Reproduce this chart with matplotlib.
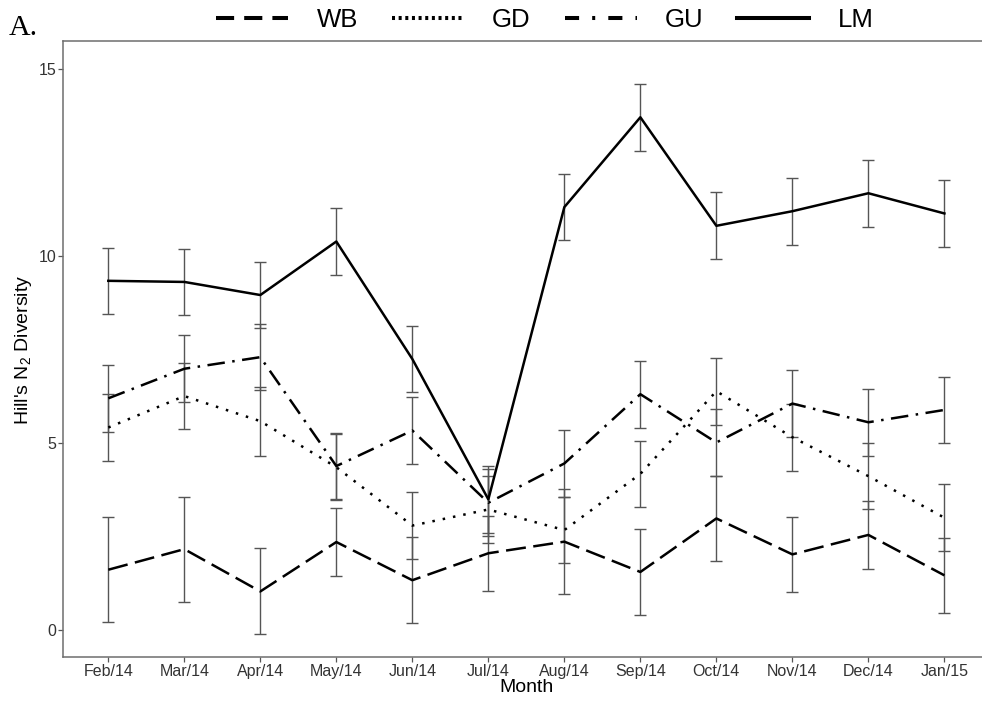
import numpy as np
import matplotlib.pyplot as plt
from matplotlib.lines import Line2D

plt.rcParams['font.family'] = ['Liberation Sans', 'DejaVu Sans']
plt.rcParams['mathtext.fontset'] = 'custom'
plt.rcParams['mathtext.rm'] = 'Liberation Sans'
plt.rcParams['mathtext.default'] = 'regular'

months = ['Feb/14', 'Mar/14', 'Apr/14', 'May/14', 'Jun/14', 'Jul/14',
          'Aug/14', 'Sep/14', 'Oct/14', 'Nov/14', 'Dec/14', 'Jan/15']

# mean Hill's N2 per site, with standard errors
wb = [1.61, 2.16, 1.03, 2.35, 1.33, 2.05, 2.36, 1.55, 2.98, 2.02, 2.54, 1.46]
wb_se = [1.40, 1.40, 1.15, 0.90, 1.15, 1.00, 1.40, 1.15, 1.14, 1.00, 0.91, 1.00]

gd = [5.41, 6.25, 5.58, 4.35, 2.79, 3.22, 2.67, 4.17, 6.38, 5.15, 4.11, 3.00]
gd_se = [0.89, 0.89, 0.92, 0.89, 0.89, 0.89, 0.89, 0.89, 0.89, 0.89, 0.89, 0.89]

gu = [6.19, 6.98, 7.29, 4.38, 5.33, 3.40, 4.45, 6.30, 5.01, 6.05, 5.55, 5.88]
gu_se = [0.89, 0.89, 0.89, 0.89, 0.89, 0.89, 0.89, 0.89, 0.89, 0.89, 0.89, 0.89]

lm = [9.33, 9.30, 8.95, 10.38, 7.24, 3.49, 11.30, 13.70, 10.80, 11.19, 11.67, 11.13]
lm_se = [0.89, 0.89, 0.89, 0.89, 0.89, 0.89, 0.89, 0.89, 0.89, 0.89, 0.89, 0.89]

sites = ['WB', 'GD', 'GU', 'LM']
means = [wb, gd, gu, lm]
errors = [wb_se, gd_se, gu_se, lm_se]

# dash patterns in the plot and (thicker) in the key
plot_dashes = {'WB': (8, 3), 'GD': (1, 3.2), 'GU': (7, 3, 1, 3), 'LM': None}
key_dashes = {'WB': (4.5, 2.5), 'GD': (0.75, 0.9), 'GU': (3.5, 3.25, 0.75, 3.25), 'LM': None}

W, H = 982, 701
fig = plt.figure(figsize=(W / 100, H / 100), dpi=100)
ax = fig.add_axes([62.7 / W, 1 - 657.3 / H, (990 - 62.7) / W, (657.3 - 41.3) / H])

x = np.arange(len(months))
for site, m, se in zip(sites, means, errors):
    ax.errorbar(x, m, yerr=se, fmt='none', ecolor='#555555', elinewidth=1.0,
                capsize=4, capthick=1.0, zorder=2)
    line, = ax.plot(x, m, color='black', lw=1.8, zorder=3)
    if plot_dashes[site] is not None:
        line.set_dashes(plot_dashes[site])

ax.set_xlim(-0.6, 11.6)
ax.set_ylim(-0.73, 15.73)
ax.set_xticks(x)
ax.set_xticklabels(months)
ax.set_yticks([0, 5, 10, 15])
ax.tick_params(axis='both', labelsize=11.5, labelcolor='#333333', color='#555555',
               length=3.5, width=0.9, pad=1.2)
for s in ax.spines.values():
    s.set_color('#6e6e6e')
    s.set_linewidth(1.1)

ax.set_xlabel('Month', fontsize=14)
ax.xaxis.set_label_coords(0.5, -0.036)
ax.set_ylabel("Hill's N$_2$ Diversity", fontsize=14)
ax.yaxis.set_label_coords(-0.031, 0.5)

handles = []
for site in sites:
    h = Line2D([0], [0], color='black', lw=2.9)
    if key_dashes[site] is not None:
        h.set_dashes(key_dashes[site])
    handles.append(h)
fig.legend(handles, sites, loc='center', bbox_to_anchor=(545 / W, 1 - 20 / H),
           ncol=4, frameon=False, fontsize=18.5, handlelength=2.8,
           handletextpad=1.1, columnspacing=1.32)

fig.text(9 / W, 1 - 35 / H, 'A.', family='Liberation Serif', fontsize=21.5,
         ha='left', va='baseline')

fig.savefig('out.png', dpi=100)
